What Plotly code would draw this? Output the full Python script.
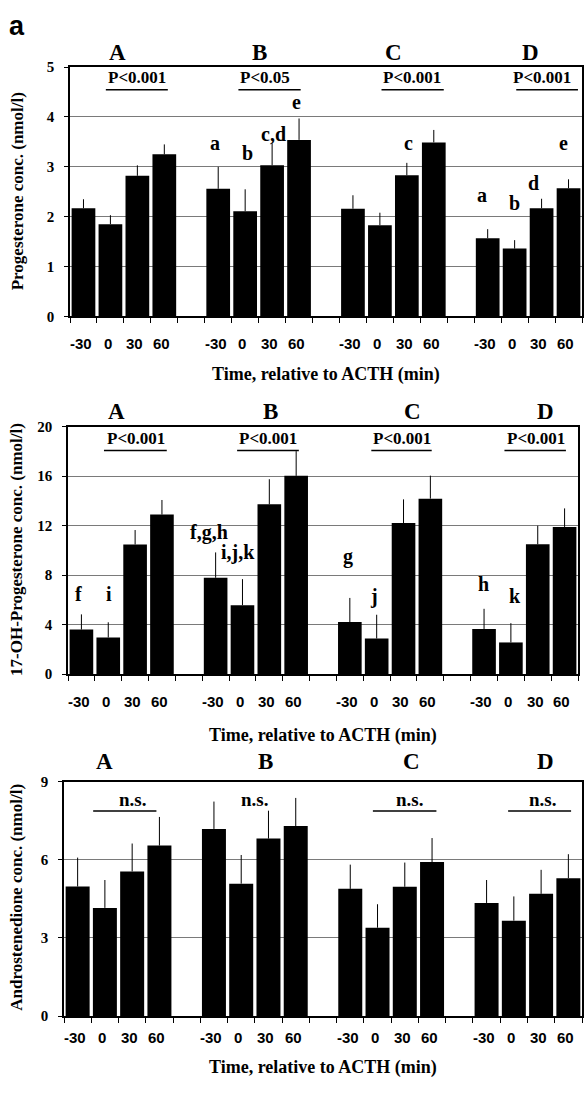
import plotly.graph_objects as go

W, H = 584, 1093

groups = ["A", "B", "C", "D"]
times = ["-30", "0", "30", "60"]

# Progesterone (nmol/l): means and upper SE, per group A..D, times -30,0,30,60
prog_mean = [[2.17, 1.85, 2.82, 3.25], [2.56, 2.11, 3.03, 3.54],
             [2.16, 1.83, 2.83, 3.49], [1.57, 1.36, 2.17, 2.57]]
prog_se = [[0.18, 0.18, 0.21, 0.20], [0.44, 0.44, 0.44, 0.43],
           [0.27, 0.25, 0.25, 0.25], [0.18, 0.17, 0.19, 0.18]]

# 17-OH-Progesterone (nmol/l)
ohp_mean = [[3.6, 2.96, 10.48, 12.9], [7.79, 5.57, 13.73, 16.03],
            [4.21, 2.88, 12.21, 14.19], [3.65, 2.56, 10.5, 11.9]]
ohp_se = [[1.23, 1.23, 1.17, 1.18], [2.05, 2.11, 2.03, 2.0],
          [1.95, 1.92, 1.92, 1.86], [1.63, 1.56, 1.5, 1.5]]

# Androstenedione (nmol/l)
andro_mean = [[4.97, 4.15, 5.55, 6.54], [7.18, 5.08, 6.81, 7.29],
              [4.88, 3.39, 4.96, 5.91], [4.34, 3.66, 4.69, 5.29]]
andro_se = [[1.11, 1.07, 1.07, 1.10], [1.05, 1.10, 1.07, 1.08],
            [0.93, 0.90, 0.93, 0.92], [0.88, 0.93, 0.92, 0.92]]

y_titles = ["Progesterone conc. (nmol/l)",
            "17-OH-Progesterone conc. (nmol/l)",
            "Androstenedione conc. (nmol/l)"]
x_title = "Time, relative to ACTH (min)"
y_ranges = [[0, 5], [0, 20], [0, 9]]
y_dticks = [1, 4, 3]

sig_text = [["P<0.001", "P<0.05", "P<0.001", "P<0.001"],
            ["P<0.001", "P<0.001", "P<0.001", "P<0.001"],
            ["n.s.", "n.s.", "n.s.", "n.s."]]
sig_line_on = [[1, 1, 1, 1], [1, 1, 1, 1], [1, 0, 1, 1]]

# letter labels (text, category position, pixel y)
letters1 = [("a", 4.87, 137), ("b", 6.1, 147), ("c,d", 7.06, 128), ("e", 7.9, 95),
            ("c", 12.05, 137), ("a", 14.78, 190), ("b", 15.98, 198),
            ("d", 16.7, 178), ("e", 17.8, 137)]
letters2 = [("f", -0.12, 595), ("i", 1.04, 595), ("f,g,h", 4.75, 532),
            ("i,j,k", 5.85, 553), ("g", 9.94, 557), ("j", 10.9, 597),
            ("h", 14.97, 585), ("k", 16.15, 597)]
letters3 = []

# ---------- layout geometry (pixels) ----------
px_x = [(70, 582), (68, 578), (64, 582)]
px_y = [(60, 313), (425, 676), (785, 1023)]
grp_letter_pos = [[1.28, 6.54, 11.5, 16.6], [1.32, 7.06, 12.33, 17.3],
                  [0.97, 6.9, 12.25, 17.17]]
grp_letter_y = [45, 410, 765]
sig_text_pos = [[2.0, 6.75, 12.2, 17.0], [2.03, 6.96, 11.95, 16.93],
                [2.0, 6.48, 12.17, 17.04]]
sig_text_y = [71, 437, 803]
sig_line_x = [[(0.83, 3.13), (5.75, 8.06), (11.06, 13.37), (16.06, 18.35)],
              [(0.84, 3.18), (5.8, 8.1), (10.8, 13.05), (15.76, 18.05)],
              [(0.57, 2.89), (5.8, 8.1), (10.83, 13.16), (15.79, 18.1)]]
sig_line_y = [83, 449, 815]
ytitle_y = [186, 550, 903]
xtick_y = [340, 704, 1045]
xtitle_y = [372, 738, 1075]


def px(x):
    return x / W


def py(y):
    return 1 - y / H


SERIF = "Liberation Serif"
SANS = "Liberation Sans"

means_all = [prog_mean, ohp_mean, andro_mean]
se_all = [prog_se, ohp_se, andro_se]
letters_all = [letters1, letters2, letters3]

fig = go.Figure()
annotations = []
shapes = []

for k in range(3):
    xa = "x" if k == 0 else f"x{k+1}"
    ya = "y" if k == 0 else f"y{k+1}"
    xs, ys, es, labels = [], [], [], []
    for gi in range(4):
        for ti in range(4):
            xs.append(gi * 5 + ti)
            ys.append(means_all[k][gi][ti])
            es.append(se_all[k][gi][ti])
            labels.append(times[ti])
    fig.add_trace(go.Bar(
        x=xs, y=ys, width=0.88, xaxis=xa, yaxis=ya,
        marker=dict(color="black", line=dict(width=0)),
        error_y=dict(type="data", symmetric=False, array=es,
                     arrayminus=[0] * len(es), width=0, thickness=1,
                     color="black"),
        showlegend=False, hoverinfo="skip"))

    xkey = "xaxis" if k == 0 else f"xaxis{k+1}"
    ykey = "yaxis" if k == 0 else f"yaxis{k+1}"
    fig.update_layout(**{
        xkey: dict(
            domain=[px(px_x[k][0]), px(px_x[k][1])], anchor=ya,
            range=[-0.5, 18.5], tickmode="array", tickvals=xs,
            ticktext=labels, ticks="outside", ticklen=1,
            tickcolor="rgba(0,0,0,0)", showticklabels=False,
            showline=True, linecolor="black", linewidth=1.5, mirror=True,
            showgrid=False, zeroline=False, fixedrange=True,
            minor=dict(tickmode="array", tickvals=[i - 0.5 for i in range(20)],
                       ticks="outside", ticklen=5, tickcolor="black",
                       tickwidth=1, showgrid=False)),
        ykey: dict(
            domain=[py(px_y[k][1]), py(px_y[k][0])], anchor=xa,
            range=y_ranges[k], dtick=y_dticks[k], tick0=0,
            showgrid=True, gridcolor="#7a7a7a", gridwidth=1,
            showline=True, linecolor="black", linewidth=1.5, mirror=True,
            ticks="outside", ticklen=4, tickcolor="black",
            ticklabelstandoff=7,
            tickfont=dict(family=SERIF, size=15, color="black", weight="bold"),
            zeroline=False, fixedrange=True),
    })

    # x tick labels as text under bars
    for x, lab in zip(xs, labels):
        annotations.append(dict(
            x=x - 0.1, xref=xa, y=py(xtick_y[k]), yref="paper", text=lab,
            showarrow=False, xanchor="center", yanchor="middle",
            font=dict(family=SANS, size=15, color="black", weight="bold")))

    # axis titles
    annotations.append(dict(
        x=px(17), y=py(ytitle_y[k]), xref="paper", yref="paper",
        text=y_titles[k], textangle=-90, showarrow=False,
        xanchor="center", yanchor="middle",
        font=dict(family=SERIF, size=17, color="black", weight="bold")))
    annotations.append(dict(
        x=(px(px_x[k][0]) + px(px_x[k][1])) / 2, y=py(xtitle_y[k]),
        xref="paper", yref="paper", text=x_title, showarrow=False,
        xanchor="center", yanchor="middle",
        font=dict(family=SERIF, size=18, color="black", weight="bold")))

    # group letters, significance text and lines
    for gi in range(4):
        annotations.append(dict(
            x=grp_letter_pos[k][gi], xref=xa, y=py(grp_letter_y[k]), yref="paper",
            text=groups[gi], showarrow=False, xanchor="center", yanchor="middle",
            font=dict(family=SERIF, size=23, color="black", weight="bold")))
        annotations.append(dict(
            x=sig_text_pos[k][gi], xref=xa, y=py(sig_text_y[k]), yref="paper",
            text=sig_text[k][gi], showarrow=False, xanchor="center",
            yanchor="middle",
            font=dict(family=SERIF, size=17 if k < 2 else 19, color="black",
                      weight="bold")))
        if sig_line_on[k][gi]:
            x0, x1 = sig_line_x[k][gi]
            shapes.append(dict(
                type="line", xref=xa, yref="paper", x0=x0, x1=x1,
                y0=py(sig_line_y[k]), y1=py(sig_line_y[k]),
                line=dict(color="black", width=1.5)))

    for txt, xc, yp in letters_all[k]:
        annotations.append(dict(
            x=xc, xref=xa, y=py(yp), yref="paper", text=txt, showarrow=False,
            xanchor="center", yanchor="middle",
            font=dict(family=SERIF, size=20, color="black", weight="bold")))

# panel label
annotations.append(dict(
    x=px(17), y=py(18), xref="paper", yref="paper", text="a", showarrow=False,
    xanchor="center", yanchor="middle",
    font=dict(family=SANS, size=27, color="black", weight="bold")))

fig.update_layout(
    width=W, height=H, margin=dict(l=0, r=0, t=0, b=0),
    paper_bgcolor="white", plot_bgcolor="white",
    bargap=0.12, annotations=annotations, shapes=shapes,
    showlegend=False)

fig.write_html(
    "out.html",
    config={"displayModeBar": False},
    post_script="document.body.style.margin='0';document.body.style.overflow='hidden';")
